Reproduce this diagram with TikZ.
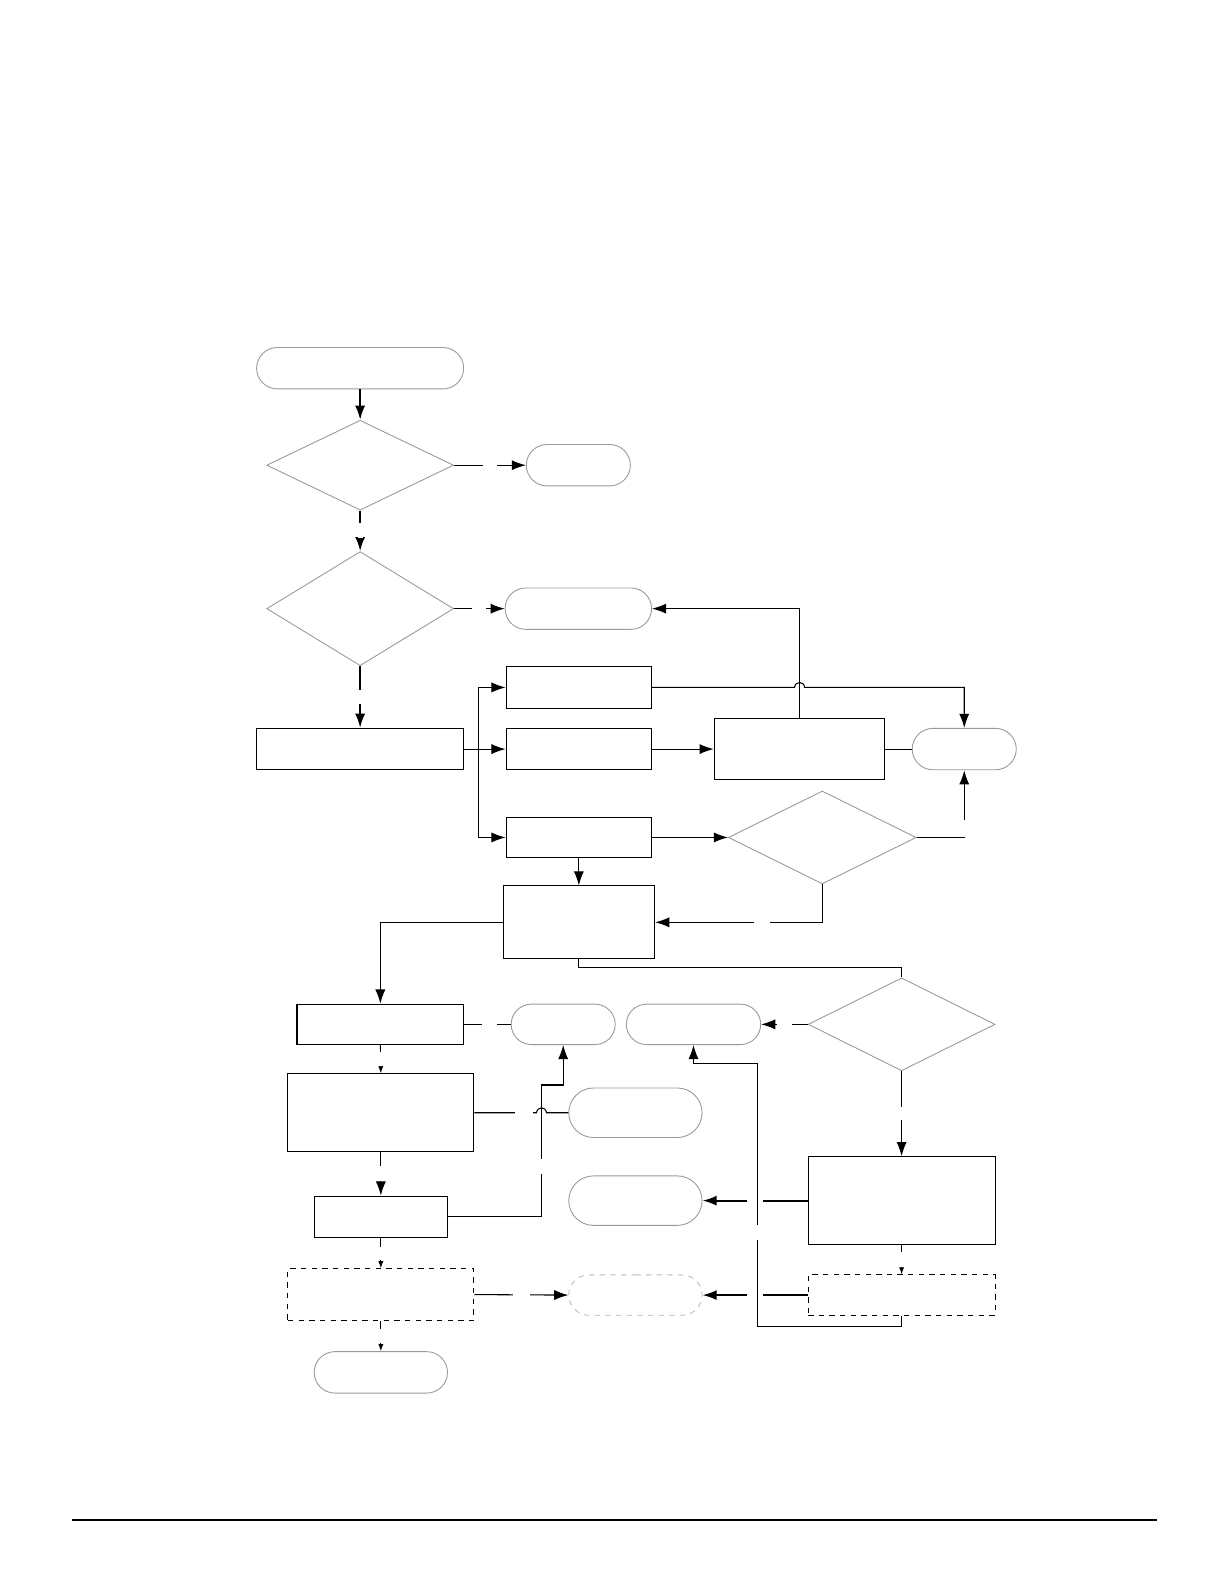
\documentclass[tikz,border=0pt]{standalone}
\usepackage{tikz}
\usetikzlibrary{arrows.meta,shapes.geometric,shapes.misc}

\begin{document}
\begin{tikzpicture}[
  x=0.02cm,y=-0.02cm,
  >={Latex[length=2.8mm,width=2mm]},
  proc/.style={draw,line width=0.6pt,rectangle,inner sep=0pt},
  dproc/.style={proc,dashed},
  term/.style={draw=gray!80,line width=0.5pt,rounded rectangle,inner sep=0pt},
  dterm/.style={term,dashed,draw=gray!55},
  dec/.style={draw=gray!80,line width=0.5pt,diamond,inner sep=0pt},
  link/.style={line width=0.6pt},
  flow/.style={->,link},
  bold/.style={->,line width=1.1pt},
  minor/.style={-{Latex[length=1.4mm,width=1mm]},line width=0.5pt},
  hgap/.style={fill=white,inner sep=0pt,minimum width=#1,minimum height=0.1cm},
  vgap/.style={fill=white,inner sep=0pt,minimum height=#1,minimum width=0.1cm}
]
\useasboundingbox (0,0) rectangle (1212,1568);

% left column
\node[term,minimum width=4.1cm,minimum height=0.82cm] (start) at (356.5,364.5) {};
\node[dec,minimum width=3.7cm,minimum height=1.78cm] (dec1) at (356.5,460.5) {};
\node[term,minimum width=2.06cm,minimum height=0.82cm] (end1) at (572.5,460.5) {};
\node[dec,minimum width=3.7cm,minimum height=2.26cm] (dec2) at (356.5,602.5) {};
\node[term,minimum width=2.9cm,minimum height=0.82cm] (end2) at (572.5,602.5) {};
\node[proc,minimum width=4.1cm,minimum height=0.82cm] (init) at (356.5,741.5) {};

% middle block
\node[proc,minimum width=2.88cm,minimum height=0.82cm] (procA) at (573,680.5) {};
\node[proc,minimum width=2.88cm,minimum height=0.82cm] (procB) at (573,741.5) {};
\node[proc,minimum width=2.88cm,minimum height=0.8cm] (procC) at (573,829) {};
\node[proc,minimum width=3.38cm,minimum height=1.22cm] (procD) at (791.5,741.5) {};
\node[term,minimum width=2.06cm,minimum height=0.82cm] (end3) at (954.5,741.5) {};
\node[dec,minimum width=3.72cm,minimum height=1.84cm] (dec3) at (814,829) {};
\node[proc,minimum width=3cm,minimum height=1.44cm] (procE) at (573,913) {};

% lower part
\node[dec,minimum width=3.7cm,minimum height=1.84cm] (dec4) at (892.5,1014) {};
\node[proc,minimum width=3.3cm,minimum height=0.8cm] (procF) at (376.5,1014) {};
\node[term,minimum width=2.06cm,minimum height=0.8cm] (end4) at (557.5,1014) {};
\node[term,minimum width=2.66cm,minimum height=0.8cm] (end5) at (686.5,1014) {};
\node[proc,minimum width=3.68cm,minimum height=1.54cm] (procG) at (377,1101.5) {};
\node[term,minimum width=2.64cm,minimum height=0.98cm] (end6) at (629,1101.5) {};
\node[proc,minimum width=3.7cm,minimum height=1.74cm] (procH) at (892.5,1188.5) {};
\node[term,minimum width=2.64cm,minimum height=0.98cm] (end7) at (629,1188.5) {};
\node[proc,minimum width=2.64cm,minimum height=0.82cm] (procI) at (377,1204.5) {};
\node[dproc,minimum width=3.68cm,minimum height=1.02cm] (procJ) at (377,1281.5) {};
\node[dterm,minimum width=2.64cm,minimum height=0.8cm] (end8) at (629,1282) {};
\node[dproc,minimum width=3.7cm,minimum height=0.8cm] (procK) at (892.5,1282) {};
\node[term,minimum width=2.64cm,minimum height=0.82cm] (finish) at (377,1358.5) {};

% waypoints
\coordinate (bus) at (474,741.5);
\coordinate (bumpL) at (786.5,680.5);
\coordinate (bumpR) at (796.5,680.5);
\coordinate (ebot) at (573,957.5);
\coordinate (hopL) at (531,1101.5);
\coordinate (hopR) at (541,1101.5);
\coordinate (iup) at (536,1074);
\coordinate (kbot) at (892.5,1313);
\coordinate (kup) at (750,1053);

% connectors
\draw[bold] (start) -- (dec1);
\draw[flow] (dec1.east) -- node[hgap=0.28cm] (g1) {} (end1.west);
\draw[bold] (dec1.south) -- node[vgap=0.3cm] (g2) {} (dec2.north);
\draw[flow] (dec2.east) -- node[hgap=0.28cm] (g3) {} (end2.west);
\draw[bold] (dec2.south) -- node[vgap=0.28cm] (g4) {} (init.north);
\draw[flow] (init.east) -- (procB.west);
\draw[flow] (bus) |- (procA.west);
\draw[flow] (bus) |- (procC.west);
\draw[flow] (procA.east) -- (bumpL) .. controls (787,674) and (796,674) .. (bumpR) -| (end3.north);
\draw[flow] (procD.north) |- (end2.east);
\draw[flow] (procB.east) -- (procD.west);
\draw[link] (procD.east) -- (end3.west);
\draw[flow] (procC.east) -- (dec3.west);
\draw[->,line width=0.8pt] (dec3.east) -| node[vgap=0.32cm,pos=0.567] (g5) {} (end3.south);
\draw[flow] (dec3.south) |- node[hgap=0.32cm,pos=0.68] (g6) {} (procE.east);
\draw[flow] (procC.south) -- (procE.north);
\draw[flow] (procE.west) -| (procF.north);
\draw[link] (procE.south) -- (ebot) -| (dec4.north);
\draw[flow] (dec4.west) -- node[hgap=0.3cm] (g7) {} (end5.east);
\draw[flow] (dec4.south) -- node[vgap=0.26cm] (g8) {} (procH.north);
\draw[link] (procF.east) -- node[hgap=0.3cm,pos=0.55] (g9) {} (end4.west);
\draw[minor] (procF.south) -- node[vgap=0.28cm] (g10) {} (procG.north);
\draw[flow] (procG.south) -- node[vgap=0.3cm] (g11) {} (procI.north);
\draw[minor] (procI.south) -- node[vgap=0.26cm] (g12) {} (procJ.north);
\draw[minor] (procJ.south) -- node[vgap=0.26cm] (g13) {} (finish.north);
\draw[link] (procG.east) -- node[hgap=0.34cm,pos=0.8] (g14) {} (hopL) .. controls (532,1095) and (540,1095) .. (hopR) -- (end6.west);
\draw[flow] (procI.east) -| node[vgap=0.3cm,pos=0.69] (g15) {} (iup) -| (end4.south);
\draw[bold] (procH.west) -- node[hgap=0.32cm] (g16) {} (end7.east);
\draw[minor] (procH.south) -- node[vgap=0.3cm] (g17) {} (procK.north);
\draw[flow] (procJ.east) -- node[hgap=0.34cm] (g18) {} (end8.west);
\draw[bold] (procK.west) -- node[hgap=0.32cm] (g19) {} (end8.east);
\draw[flow] (procK.south) -- (kbot) -| node[vgap=0.3cm,pos=0.678] (g20) {} (kup) -| (end5.south);

% page rule
\draw[line width=1pt] (71,1505) -- (1145,1505);
\end{tikzpicture}
\end{document}
